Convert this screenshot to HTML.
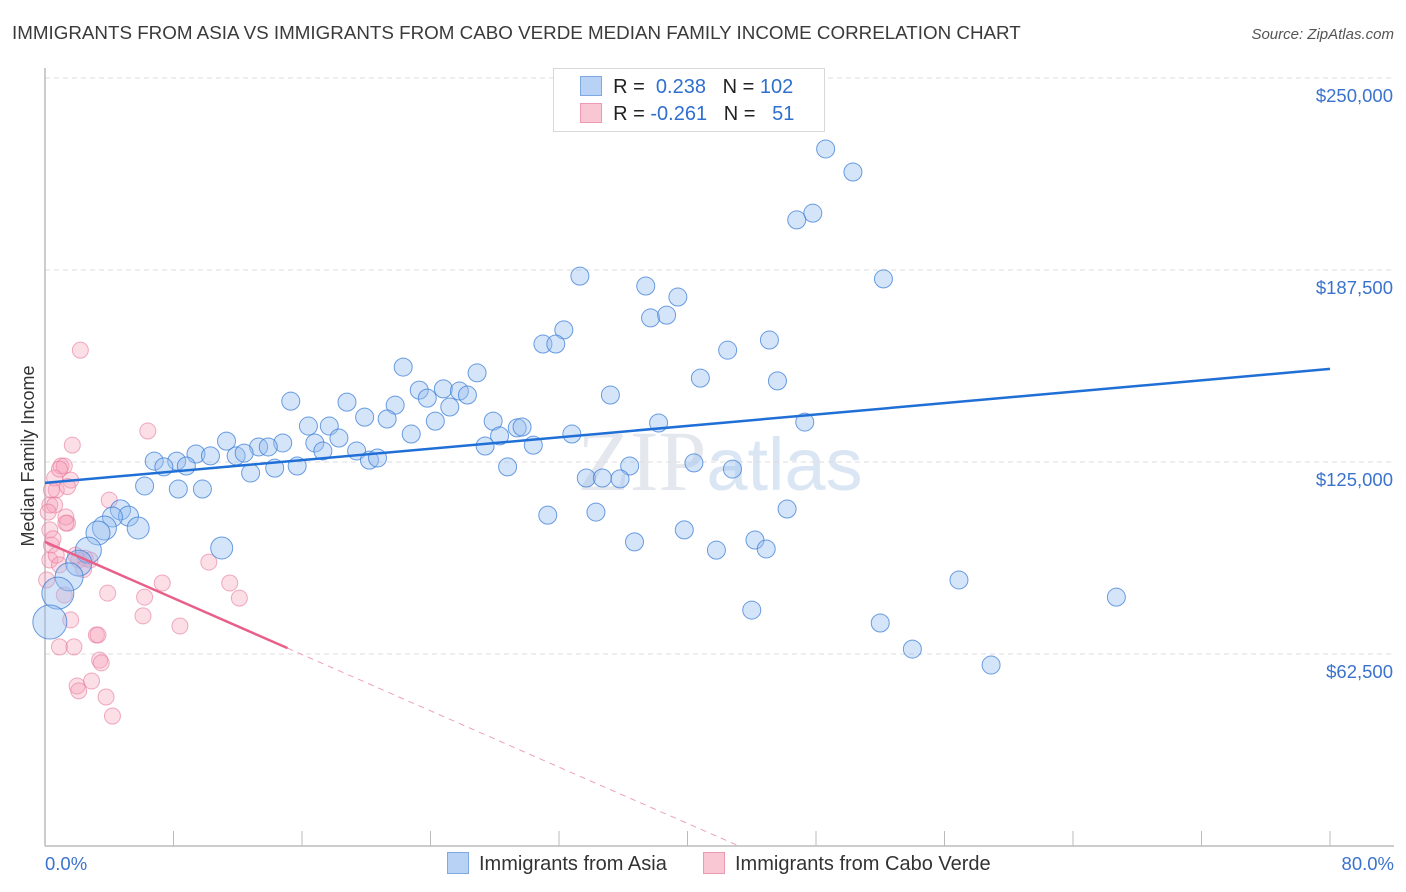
<!DOCTYPE html>
<html><head><meta charset="utf-8">
<style>
body{margin:0;background:#fff;width:1406px;height:892px;overflow:hidden;font-family:"Liberation Sans",sans-serif;}
svg{position:absolute;left:0;top:0}
</style></head>
<body>
<svg id="chart" width="1406" height="892"></svg>
<script>
const asiaX=[48.6,50.3,47.8,46.8,33.3,52.2,37.4,39.4,37.7,38.7,32.3,31.0,31.8,42.5,45.1,22.3,26.9,40.8,45.6,23.3,24.8,25.8,26.3,23.8,35.2,15.3,18.8,21.8,25.2,19.9,21.3,24.3,27.9,38.2,47.3,16.4,17.7,29.4,29.7,22.8,32.8,18.3,28.3,11.3,14.8,16.8,13.3,13.9,30.4,27.4,17.3,19.4,9.4,10.3,11.9,12.4,6.8,8.2,20.2,20.7,7.4,8.8,14.3,15.7,40.4,36.4,28.8,12.8,42.8,33.7,34.7,35.8,6.2,8.3,9.8,46.2,31.3,34.3,4.7,5.2,4.2,5.8,3.7,3.3,39.8,36.7,44.2,41.8,44.9,11.0,2.7,2.1,1.5,56.9,0.8,66.7,44.0,52.0,0.3,54.0,58.9];
const asiaY=[226.9,219.4,206.0,203.8,185.5,184.6,182.3,178.7,171.9,172.8,168.0,163.4,163.4,161.4,164.7,155.9,154.0,152.3,151.4,148.4,148.8,148.1,146.8,145.8,146.8,144.8,144.5,143.5,142.9,139.6,139.0,138.3,138.3,137.7,138.0,136.7,136.7,136.1,136.4,134.1,134.1,132.8,133.5,131.8,131.2,131.2,129.9,129.9,130.5,130.2,128.6,128.6,127.6,127.0,127.0,127.9,125.3,125.3,125.6,126.3,123.4,123.7,123.0,123.7,124.7,123.7,123.4,121.4,122.7,119.8,119.8,119.5,117.2,116.2,116.2,109.7,107.7,108.7,109.4,107.4,107.1,103.5,103.5,101.9,102.9,99.0,99.6,96.3,96.7,97.0,96.3,92.1,87.6,86.6,82.3,81.0,76.8,72.6,72.9,64.1,58.9];
const asiaR=[9,9,9,9,9,9,9,9,9,9,9,9,9,9,9,9,9,9,9,9,9,9,9,9,9,9,9,9,9,9,9,9,9,9,9,9,9,9,9,9,9,9,9,9,9,9,9,9,9,9,9,9,9,9,9,9,9,9,9,9,9,9,9,9,9,9,9,9,9,9,9,9,9,9,9,9,9,9,10,10,10,11,12,12,9,9,9,9,9,11,13,13,14,9,16,9,9,9,17,9,9];
const capeX=[2.2,6.4,1.7,1.0,1.2,1.6,0.6,0.7,0.3,0.6,4.0,1.4,1.3,0.3,1.3,0.4,0.3,0.7,0.9,2.5,2.1,10.2,7.3,11.5,6.2,12.1,3.9,6.1,8.4,1.2,1.6,3.2,0.9,1.8,3.4,3.5,2.0,2.1,2.9,3.8,4.2,0.4,0.2,0.9,0.1,1.9,2.8,1.4,3.3,0.5,2.4];
const capeY=[161.4,135.1,130.5,123.7,123.7,119.1,119.8,115.9,111.0,111.0,112.6,105.1,107.1,102.9,105.1,98.0,93.1,94.7,91.5,93.7,93.1,92.4,85.6,85.6,81.0,80.7,82.3,74.9,71.6,81.7,73.6,68.7,64.8,64.8,60.5,59.6,52.1,50.5,53.7,48.5,42.3,115.9,108.7,122.7,86.6,94.7,93.1,117.0,68.7,100.0,90.0];
const asiaTrend=[118.2,155.3];
const capeTrend=[99.0,64.4];
const yTicks=[62.5,125,187.5,250];
const yTickLabels=["$62,500","$125,000","$187,500","$250,000"];

const NS="http://www.w3.org/2000/svg";
const svg=document.getElementById('chart');
const X=v=>45+v/80*1285;
const Y=v=>846-v/62.5*192;
function mk(tag,attrs,parent){const e=document.createElementNS(NS,tag);for(const k in attrs)e.setAttribute(k,attrs[k]);(parent||svg).appendChild(e);return e;}

let t=mk('text',{x:12,y:39,'font-size':18.8,fill:'#3a3a3a'});t.textContent='IMMIGRANTS FROM ASIA VS IMMIGRANTS FROM CABO VERDE MEDIAN FAMILY INCOME CORRELATION CHART';

t=mk('text',{x:1394,y:39,'font-size':15,fill:'#555','text-anchor':'end','font-style':'italic'});t.textContent='Source: ZipAtlas.com';


t=mk('text',{x:720,y:490,'font-size':86,fill:'#e4e8ee','text-anchor':'middle','font-family':'Liberation Serif, serif'});
t.innerHTML='ZIP<tspan fill="#dbe6f4" font-family="Liberation Sans, sans-serif" font-size="74">atlas</tspan>';


yTicks.forEach((v,i)=>{
 const g=mk('line',{x1:45,x2:1394,y1:Y(v),y2:Y(v),stroke:'#dcdcdc','stroke-dasharray':'5,4'});
 
 const l=mk('text',{x:1393,y:Y(v)+24,'font-size':18.5,fill:'#3b73cc','text-anchor':'end'});l.textContent=yTickLabels[i];
 
});
let a=mk('line',{x1:45,x2:45,y1:68,y2:846,stroke:'#bbb','stroke-width':1.5});
a=mk('line',{x1:45,x2:1394,y1:846,y2:846,stroke:'#bbb','stroke-width':1.5});
for(let i=0;i<=10;i++){const k=mk('line',{x1:X(i*8),x2:X(i*8),y1:831,y2:846,stroke:'#bbb'});}
t=mk('text',{x:45,y:870,'font-size':18.5,fill:'#3b73cc'});t.textContent='0.0%';
t=mk('text',{x:1394,y:870,'font-size':18.5,fill:'#3b73cc','text-anchor':'end'});t.textContent='80.0%';
t=mk('text',{x:34,y:456,'font-size':18,fill:'#333','text-anchor':'middle',transform:'rotate(-90 34 456)'});t.textContent='Median Family Income';


capeX.forEach((v,i)=>{const c=mk('circle',{cx:X(v),cy:Y(capeY[i]),r:8,fill:'rgba(245,160,185,0.35)',stroke:'rgba(230,120,155,0.6)','stroke-width':1});
 });
asiaX.forEach((v,i)=>{const c=mk('circle',{cx:X(v),cy:Y(asiaY[i]),r:asiaR[i],fill:'rgba(150,190,240,0.4)',stroke:'rgba(60,125,215,0.75)','stroke-width':1});
 });

let ln=mk('line',{x1:X(0),y1:Y(asiaTrend[0]),x2:X(80),y2:Y(asiaTrend[1]),stroke:'#1f6fd6','stroke-width':2.5});

const slope=(capeTrend[1]-capeTrend[0])/15.1, x0=-capeTrend[0]/slope;
ln=mk('line',{x1:X(0),y1:Y(capeTrend[0]),x2:X(15.1),y2:Y(capeTrend[1]),stroke:'#e8608a','stroke-width':2.5});

ln=mk('line',{x1:X(15.1),y1:Y(capeTrend[1]),x2:X(x0),y2:Y(0),stroke:'#eea0b5','stroke-width':1,'stroke-dasharray':'6,5'});

</script>

<div style="position:absolute;left:553px;top:68px;width:270px;height:62px;border:1px solid #d8d8d8;background:#fff;font-size:20px;color:#222">
 <div style="position:absolute;left:26px;top:7px;white-space:pre"><span style="display:inline-block;width:20px;height:18px;background:#b8d2f5;border:1px solid #7fa8e0;vertical-align:-3px"></span>  R =  <span style="color:#2f6fd0">0.238</span>   N = <span style="color:#2f6fd0">102</span></div>
 <div style="position:absolute;left:26px;top:34px;white-space:pre"><span style="display:inline-block;width:20px;height:18px;background:#f9c6d4;border:1px solid #eb9ab2;vertical-align:-3px"></span>  R = <span style="color:#2f6fd0">-0.261</span>   N =   <span style="color:#2f6fd0">51</span></div>
</div>

<div style="position:absolute;left:447px;top:852px;font-size:20px;color:#333;white-space:nowrap"><span style="display:inline-block;width:20px;height:20px;background:#b8d2f5;border:1px solid #7fa8e0;vertical-align:-4px;margin-right:10px"></span>Immigrants from Asia</div>
<div style="position:absolute;left:703px;top:852px;font-size:20px;color:#333;white-space:nowrap"><span style="display:inline-block;width:20px;height:20px;background:#f9c6d4;border:1px solid #eb9ab2;vertical-align:-4px;margin-right:10px"></span>Immigrants from Cabo Verde</div>
</body></html>
